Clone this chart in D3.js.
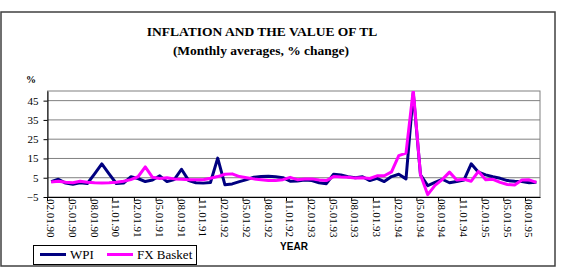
<!DOCTYPE html>
<html>
<head>
<meta charset="utf-8">
<script src="https://cdn.jsdelivr.net/npm/d3@7"></script>
<style>
  body { margin: 0; background: #fff; }
  svg { display: block; }
</style>
</head>
<body>
<svg></svg>
<script>
        // Chart dimensions
        const width = 563;
        const height = 269;
        const margin = { top: 91, right: 23, bottom: 72, left: 47.5 };

        // Data
        const months = [
            "02.01.90", "03.01.90", "04.01.90", "05.01.90", "06.01.90", "07.01.90", "08.01.90", "09.01.90", "10.01.90", "11.01.90", "12.01.90",
            "01.01.91", "02.01.91", "03.01.91", "04.01.91", "05.01.91", "06.01.91", "07.01.91", "08.01.91", "09.01.91", "10.01.91", "11.01.91", "12.01.91",
            "01.01.92", "02.01.92", "03.01.92", "04.01.92", "05.01.92", "06.01.92", "07.01.92", "08.01.92", "09.01.92", "10.01.92", "11.01.92", "12.01.92",
            "01.01.93", "02.01.93", "03.01.93", "04.01.93", "05.01.93", "06.01.93", "07.01.93", "08.01.93", "09.01.93", "10.01.93", "11.01.93", "12.01.93",
            "01.01.94", "02.01.94", "03.01.94", "04.01.94", "05.01.94", "06.01.94", "07.01.94", "08.01.94", "09.01.94", "10.01.94", "11.01.94", "12.01.94",
            "01.01.95", "02.01.95", "03.01.95", "04.01.95", "05.01.95", "06.01.95", "07.01.95", "08.01.95", "09.01.95"
        ];
        const wpi = [
            3.0, 4.2, 2.2, 1.6, 2.4, 2.0, 7.0, 12.2, 7.0, 2.0, 2.2,
            5.5, 4.6, 3.0, 3.8, 6.0, 3.0, 4.0, 9.4, 3.5, 2.4, 2.2, 2.5,
            15.2, 1.3, 1.8, 3.0, 4.0, 5.3, 5.6, 5.8, 5.5, 5.0, 3.2, 3.3,
            3.8, 3.5, 2.4, 1.9, 6.8, 6.4, 5.5, 5.0, 5.5, 3.5, 4.7, 3.0,
            5.6, 6.8, 4.4, 49.0, 6.5, 0.9, 2.6, 4.2, 2.4, 3.0, 3.8, 12.2,
            7.9, 6.5, 5.5, 4.7, 3.5, 3.2, 3.0, 2.4, 2.6
        ];
        const fxBasket = [
            2.8, 3.2, 2.6, 2.4, 3.2, 2.6, 2.4, 2.3, 2.4, 2.6, 3.2,
            4.0, 5.5, 10.6, 5.2, 4.6, 5.0, 4.4, 4.2, 4.0, 3.9, 4.0, 4.7,
            5.6, 6.8, 7.0, 5.6, 5.0, 4.4, 4.0, 3.6, 3.5, 4.0, 5.2, 4.0,
            4.4, 4.4, 3.8, 3.5, 5.6, 5.4, 5.3, 4.8, 5.0, 4.6, 6.0, 6.0,
            8.0, 16.5, 17.8, 50.5, 6.5, -3.8, 1.0, 4.0, 7.9, 3.8, 4.2, 3.2,
            8.3, 4.0, 4.2, 2.6, 1.5, 1.2, 3.8, 3.9, 2.6
        ];
        const yTicks = [-5, 5, 15, 25, 35, 45];
        const seriesNames = ["WPI", "FX Basket"];
        const colors = ["#000080", "#ff00ff"];

        // Create SVG
        const svg = d3.select("svg")
            .attr("width", width)
            .attr("height", height);

        // Outer frame
        svg.append("rect")
            .attr("x", 1)
            .attr("y", 12)
            .attr("width", 554)
            .attr("height", 254)
            .attr("fill", "none")
            .attr("stroke", "#404040")
            .attr("stroke-width", 1.5);

        // Scales
        const x = d3.scaleBand()
            .domain(months)
            .range([margin.left, width - margin.right])
            .padding(0);

        const y = d3.scaleLinear()
            .domain([-5, 50])
            .range([height - margin.bottom, margin.top]);

        const plotW = width - margin.right - margin.left;
        const plotH = height - margin.bottom - margin.top;

        // Gridlines
        svg.append("g")
            .selectAll("line")
            .data(yTicks.slice(1))
            .join("line")
            .attr("x1", margin.left)
            .attr("x2", width - margin.right)
            .attr("y1", d => y(d))
            .attr("y2", d => y(d))
            .attr("stroke", "#808080")
            .attr("stroke-width", 1);

        // Plot border
        svg.append("rect")
            .attr("x", margin.left)
            .attr("y", margin.top)
            .attr("width", plotW)
            .attr("height", plotH)
            .attr("fill", "none")
            .attr("stroke", "#808080")
            .attr("stroke-width", 1);

        // Y axis
        const yAxis = svg.append("g")
            .attr("transform", `translate(${margin.left},0)`)
            .call(d3.axisLeft(y).tickValues(yTicks).tickSize(4).tickPadding(5).tickSizeOuter(0));
        yAxis.select(".domain").attr("stroke", "#000");
        yAxis.selectAll(".tick text")
            .style("font-family", "'Liberation Serif', 'Times New Roman', serif")
            .style("font-size", "11px")
            .attr("fill", "#000");

        // X axis: one label every 3 months, ticks at the category boundary
        const tickMonths = months.filter((d, i) => i % 3 === 0);
        const xAxis = svg.append("g")
            .attr("transform", `translate(0,${height - margin.bottom})`)
            .call(d3.axisBottom(x).tickValues(tickMonths).tickSize(4).tickSizeOuter(0));
        xAxis.select(".domain").attr("stroke", "#000");
        xAxis.selectAll(".tick line")
            .attr("transform", `translate(${-x.bandwidth() / 2},0)`);
        xAxis.selectAll(".tick text")
            .attr("y", 0)
            .attr("dy", "0.35em")
            .attr("transform", "translate(0,2) rotate(90)")
            .style("text-anchor", "start")
            .style("font-family", "'Liberation Serif', 'Times New Roman', serif")
            .style("font-size", "11px")
            .attr("fill", "#000");

        // Clip the series to the plot area
        svg.append("clipPath")
            .attr("id", "plot-clip")
            .append("rect")
            .attr("x", margin.left)
            .attr("y", margin.top)
            .attr("width", plotW)
            .attr("height", plotH + 6);

        const line = d3.line()
            .x((d, i) => x(months[i]) + x.bandwidth() / 2)
            .y(d => y(d));

        [wpi, fxBasket].forEach((values, k) => {
            svg.append("path")
                .datum(values)
                .attr("clip-path", "url(#plot-clip)")
                .attr("fill", "none")
                .attr("stroke", colors[k])
                .attr("stroke-width", 3)
                .attr("stroke-linejoin", "round")
                .attr("d", line);
        });

        // Titles
        svg.append("text")
            .attr("x", 262)
            .attr("y", 36)
            .attr("text-anchor", "middle")
            .style("font-family", "'Liberation Serif', 'Times New Roman', serif")
            .style("font-size", "13.5px")
            .style("font-weight", "bold")
            .text("INFLATION AND THE VALUE OF TL");

        svg.append("text")
            .attr("x", 261)
            .attr("y", 55)
            .attr("text-anchor", "middle")
            .style("font-family", "'Liberation Serif', 'Times New Roman', serif")
            .style("font-size", "13.5px")
            .style("font-weight", "bold")
            .text("(Monthly averages, % change)");

        // Unit label
        svg.append("text")
            .attr("x", 26)
            .attr("y", 83)
            .style("font-family", "'Liberation Serif', 'Times New Roman', serif")
            .style("font-size", "10px")
            .style("font-weight", "bold")
            .text("%");

        // X axis title
        svg.append("text")
            .attr("x", 294)
            .attr("y", 250)
            .attr("text-anchor", "middle")
            .style("font-family", "'Liberation Sans', Arial, sans-serif")
            .style("font-size", "10px")
            .style("font-weight", "bold")
            .text("YEAR");

        // Legend
        const legend = svg.append("g");
        legend.append("rect")
            .attr("x", 33.5)
            .attr("y", 245.5)
            .attr("width", 163)
            .attr("height", 19)
            .attr("fill", "#fff")
            .attr("stroke", "#000")
            .attr("stroke-width", 1);

        const legendX = [40, 107];
        seriesNames.forEach((name, k) => {
            legend.append("line")
                .attr("x1", legendX[k])
                .attr("x2", legendX[k] + 26)
                .attr("y1", 254.5)
                .attr("y2", 254.5)
                .attr("stroke", colors[k])
                .attr("stroke-width", 3);
            legend.append("text")
                .attr("x", legendX[k] + 30)
                .attr("y", 259)
                .style("font-family", "'Liberation Serif', 'Times New Roman', serif")
                .style("font-size", "13px")
                .text(name);
        });
</script>
</body>
</html>
